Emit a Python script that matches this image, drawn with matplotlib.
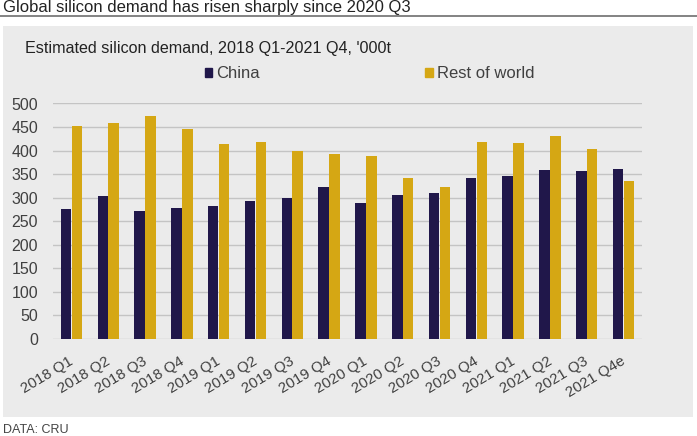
import matplotlib
matplotlib.use("Agg")
import matplotlib.pyplot as plt
import numpy as np
from matplotlib.patches import Rectangle
from matplotlib.lines import Line2D
from matplotlib.transforms import ScaledTranslation

categories = ["2018 Q1", "2018 Q2", "2018 Q3", "2018 Q4",
              "2019 Q1", "2019 Q2", "2019 Q3", "2019 Q4",
              "2020 Q1", "2020 Q2", "2020 Q3", "2020 Q4",
              "2021 Q1", "2021 Q2", "2021 Q3", "2021 Q4e"]
china = [277, 304, 272, 279, 282, 292, 300, 322,
         288, 306, 309, 342, 347, 359, 356, 361]
rest_of_world = [453, 458, 474, 445, 414, 419, 400, 393,
                 388, 342, 322, 418, 416, 431, 403, 335]
yticks = [0, 50, 100, 150, 200, 250, 300, 350, 400, 450, 500]

NAVY = "#20174a"
GOLD = "#d5a714"
PANEL = "#ebebeb"
TXT = "#404040"

plt.rcParams['font.family'] = ['Liberation Sans', 'DejaVu Sans']

W, H = 697, 436
fig = plt.figure(figsize=(W / 100, H / 100), dpi=100)
fig.patch.set_facecolor("white")

# grey panel
fig.patches.append(Rectangle((3 / W, 1 - 417 / H), 690 / W, (417 - 26) / H,
                             transform=fig.transFigure, facecolor=PANEL,
                             edgecolor="none", zorder=-5))
# title and rule
fig.text(3 / W, 1 - 12 / H, "Global silicon demand has risen sharply since 2020 Q3",
         fontsize=12, color="#222222", va="baseline", ha="left")
fig.add_artist(Line2D([0, 1], [1 - 16.5 / H, 1 - 16.5 / H], transform=fig.transFigure,
                      color="#6e6e6e", lw=1.2))
fig.text(25 / W, 1 - 48 / H, "Estimated silicon demand, 2018 Q1-2021 Q4, '000t",
         fontsize=11.6, color="#222222", va="center", ha="left")
fig.text(3 / W, 1 - 430 / H, "DATA: CRU", fontsize=9, color="#444444",
         va="center", ha="left")

ax = fig.add_axes([53 / W, 1 - 339 / H, (642 - 53) / W, (339 - 103.5) / H])
ax.set_facecolor("none")
x = np.arange(len(categories))
bw = 0.285
ax.bar(x - bw / 2 - 0.005, china, width=bw, color=NAVY, label="China", zorder=3)
ax.bar(x + bw / 2 + 0.005, rest_of_world, width=bw, color=GOLD, label="Rest of world", zorder=3)

ax.set_xlim(-0.5, len(categories) - 0.5)
ax.set_ylim(0, 500)
ax.set_yticks(yticks)
ax.set_xticks(x)
ax.set_xticklabels(categories, rotation=31, ha="right", rotation_mode="anchor")
for s in ax.spines.values():
    s.set_visible(False)
ax.grid(axis="y", color="#c4c4c4", lw=1.0, zorder=0)
ax.tick_params(axis="both", length=0, colors=TXT)
ax.tick_params(axis="y", pad=10.8, labelsize=11.5)
ax.tick_params(axis="x", pad=11, labelsize=10.8)
shift = ScaledTranslation(-3 / 100, 0, fig.dpi_scale_trans)
for lbl in ax.get_xticklabels():
    lbl.set_transform(lbl.get_transform() + shift)

fig.legend(handles=[Rectangle((0, 0), 1, 1, color=NAVY), Rectangle((0, 0), 1, 1, color=GOLD)],
           labels=["China", "Rest of world"], loc="center", ncol=2,
           bbox_to_anchor=(369.5 / W, 1 - 74 / H), frameon=False,
           fontsize=12, handlelength=0.45, handleheight=0.45, handletextpad=0.25,
           columnspacing=9.9, labelcolor=TXT, borderpad=0, borderaxespad=0)

fig.savefig("out.png", dpi=100, facecolor=fig.get_facecolor())
